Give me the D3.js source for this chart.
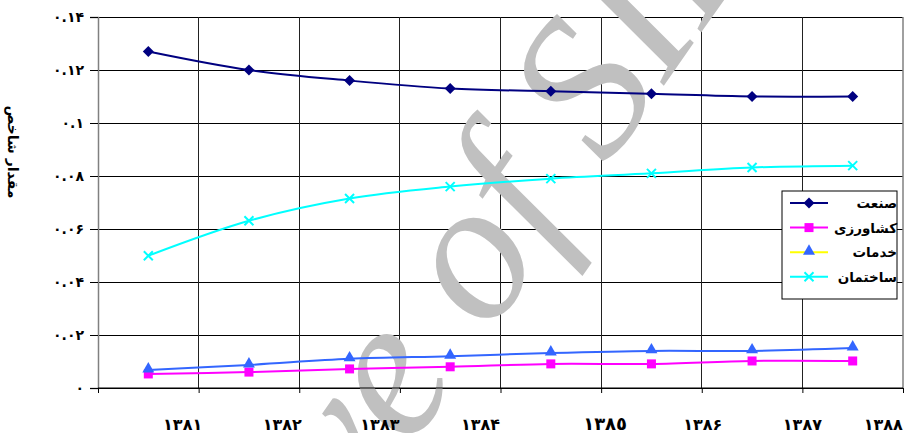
<!DOCTYPE html>
<html><head><meta charset="utf-8">
<script src="https://cdn.jsdelivr.net/npm/d3@7"></script>
<style>body{margin:0;background:#fff} svg{display:block}</style>
</head><body><svg id="c" width="906" height="433"></svg>
<script>
// ---- data ----
const years = ["۱۳۸۱","۱۳۸۲","۱۳۸۳","۱۳۸۴","١٣٨٥","۱۳۸۶","۱۳۸۷","۱۳۸۸"];
const seriesNames = ["صنعت","کشاورزی","خدمات","ساختمان"];
const sanat      = [0.127, 0.120, 0.116, 0.113, 0.112, 0.111, 0.110, 0.110];
const keshavarzi = [0.0053,0.0060,0.0072,0.0080,0.0091,0.0091,0.0102,0.0102];
const khadamat   = [0.0068,0.0087,0.0110,0.0120,0.0132,0.0140,0.0140,0.0151];
const sakhteman  = [0.0499,0.0631,0.0715,0.0760,0.0790,0.0810,0.0832,0.0839];
const yTicks = [0,0.02,0.04,0.06,0.08,0.10,0.12,0.14];
const yTickLabels = ["۰","۰.۰۲","۰.۰۴","۰.۰۶","۰.۰۸","۰.۱","۰.۱۲","۰.۱۴"];
const yTitle = "مقدار شاخص";
const watermarkText = "Archive of SID";

// ---- layout / style (not data) ----
const L = 98, R = 903, T = 17, B = 388;
const xLabelNudge = [-16,-17,-20,-20,4,1,0,-18];
const styles = [
  {line:"#000080", fill:"#000080", legendLine:"#000080", shape:"diamond"},
  {line:"#FF00FF", fill:"#FF00FF", legendLine:"#FF00FF", shape:"square"},
  {line:"#3366FF", fill:"#3366FF", legendLine:"#FFFF00", shape:"triangle"},
  {line:"#00FFFF", fill:"#00FFFF", legendLine:"#00FFFF", shape:"cross"}
];
const seriesValues = [sanat, keshavarzi, khadamat, sakhteman];
const arFont = "'DejaVu Sans', 'Noto Sans', sans-serif";

const svg = d3.select("#c");
const x = d3.scaleBand().domain(years).range([L, R]).padding(0);
const xb = d3.scaleLinear().domain([0, years.length]).range([L, R]);
const y = d3.scaleLinear().domain([0, 0.14]).range([B, T]);
const cx = d => x(d) + x.bandwidth()/2;

// gridlines
const grid = svg.append("g");
grid.selectAll("line.h").data(yTicks).join("line")
  .attr("x1", L).attr("x2", R).attr("y1", d=>y(d)).attr("y2", d=>y(d))
  .attr("stroke", "#000").attr("stroke-width", 1).attr("shape-rendering","crispEdges");
grid.selectAll("line.v").data(d3.range(1, years.length)).join("line")
  .attr("x1", d=>xb(d)).attr("x2", d=>xb(d)).attr("y1", T).attr("y2", B)
  .attr("stroke", "#222").attr("stroke-width", 1).attr("shape-rendering","crispEdges");
svg.append("line").attr("x1", R).attr("x2", R).attr("y1", T).attr("y2", B)
  .attr("stroke", "#808080").attr("stroke-width", 1.5);

// watermark
const wm = svg.append("g").attr("transform", "translate(480,268) rotate(-55)");
const wmt = wm.append("text").text(watermarkText)
  .attr("font-family", "'Liberation Serif', 'DejaVu Serif', serif")
  .attr("font-style", "italic").attr("font-size", 200)
  .attr("fill", "#c0c0c0");
try {
  const n = wmt.node();
  const s = n.getStartPositionOfChar(8).x, e = n.getEndPositionOfChar(8).x;
  wmt.attr("x", -(s+e)/2).attr("y", 0.23*200);
} catch(err) {}

// y axis
const yAxis = svg.append("g").attr("transform", `translate(${L},0)`)
  .call(d3.axisLeft(y).tickValues(yTicks).tickFormat((d,i)=>yTickLabels[i]).tickSize(8).tickPadding(6));
yAxis.select(".domain").attr("stroke", "#808080").attr("stroke-width", 1.5);
yAxis.selectAll(".tick line").attr("stroke", "#000");
yAxis.selectAll(".tick text").attr("font-family", arFont).attr("font-weight", "bold")
  .attr("font-size", 14).attr("fill", "#000");

// x axis
const xAxis = svg.append("g").attr("transform", `translate(0,${B})`)
  .call(d3.axisBottom(xb).tickValues(d3.range(0, years.length+1)).tickFormat("").tickSize(5));
xAxis.select(".domain").remove();
svg.append("line").attr("x1", L).attr("x2", R).attr("y1", B).attr("y2", B)
  .attr("stroke", "#000").attr("stroke-width", 1.2);
xAxis.selectAll(".tick line").attr("stroke", "#000");
const xl = svg.append("g").selectAll("text").data(years).join("text")
  .attr("x", (d,i)=>xb(i+1) + xLabelNudge[i]).attr("y", 430)
  .attr("text-anchor", "middle")
  .attr("font-family", arFont).attr("font-weight", "bold")
  .attr("font-size", (d,i)=> i===4 ? 18 : 16).attr("fill", "#000")
  .text(d=>d);
xl.each(function(){
  const bb = this.getBBox();
  const over = bb.x + bb.width - 903;
  if (over > 0) d3.select(this).attr("x", +d3.select(this).attr("x") - over);
});

// y title
svg.append("text").attr("transform", "translate(12,152) rotate(90)")
  .attr("text-anchor", "middle").attr("dominant-baseline", "middle")
  .attr("font-family", arFont).attr("font-weight", "bold").attr("font-size", 14)
  .text(yTitle);

// markers
function drawMarker(g, shape, fill, px, py) {
  if (shape === "cross") {
    const s = 4.5;
    g.append("path").attr("d", `M${px-s},${py-s}L${px+s},${py+s}M${px-s},${py+s}L${px+s},${py-s}`)
      .attr("stroke", fill).attr("stroke-width", 2).attr("fill", "none");
  } else if (shape === "diamond") {
    const s = 5.5;
    g.append("path").attr("d", `M${px},${py-s}L${px+s},${py}L${px},${py+s}L${px-s},${py}Z`)
      .attr("fill", fill);
  } else if (shape === "square") {
    const s = 4.5;
    g.append("rect").attr("x", px-s).attr("y", py-s).attr("width", 2*s).attr("height", 2*s)
      .attr("fill", fill);
  } else {
    g.append("path").attr("d", d3.symbol(d3.symbolTriangle, 62)())
      .attr("transform", `translate(${px},${py-1})`).attr("fill", fill);
  }
}

// series
const line = d3.line().x((d,i)=>cx(years[i])).y(d=>y(d)).curve(d3.curveCatmullRom.alpha(0.5));
const sg = svg.append("g");
seriesValues.forEach((vals, k) => {
  sg.append("path").datum(vals).attr("d", line)
    .attr("fill", "none").attr("stroke", styles[k].line).attr("stroke-width", 2);
});
seriesValues.forEach((vals, k) => {
  vals.forEach((v, i) => drawMarker(sg, styles[k].shape, styles[k].fill, cx(years[i]), y(v)));
});

// legend
const lg = svg.append("g");
lg.append("rect").attr("x", 782).attr("y", 191).attr("width", 115).attr("height", 108)
  .attr("fill", "#fff").attr("stroke", "#000").attr("stroke-width", 1);
seriesNames.forEach((nm, k) => {
  const ly = 203 + k*24.6;
  lg.append("line").attr("x1", 790).attr("x2", 828).attr("y1", ly).attr("y2", ly)
    .attr("stroke", styles[k].legendLine).attr("stroke-width", 2);
  drawMarker(lg, styles[k].shape, styles[k].fill, 809, ly);
  lg.append("text").attr("x", 897).attr("y", ly + 5)
    .attr("text-anchor", "end")
    .attr("font-family", arFont).attr("font-weight", "bold").attr("font-size", 13.5)
    .text(nm);
});
</script></body></html>
